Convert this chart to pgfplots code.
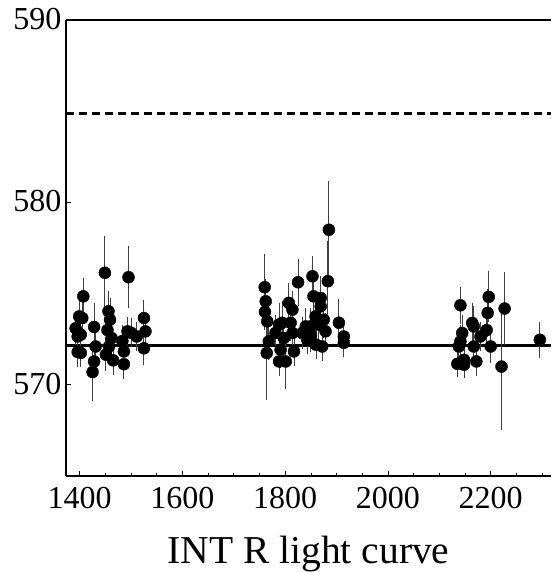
\documentclass[border=0pt]{standalone}
\usepackage{pgfplots}
\pgfplotsset{compat=1.18}
\usepackage{fontspec}
\setmainfont{Liberation Serif}
\begin{document}
\begin{tikzpicture}
\path[use as bounding box] (-66pt,-96pt) rectangle (485pt,476pt);
\begin{axis}[
  at={(0,0)}, anchor=south west,
  scale only axis, width=485pt, height=456pt,
  xmin=1373.3, xmax=2317.3, ymin=565, ymax=590,
  axis x line*=bottom, axis y line*=left,
  axis line style={line width=1.3pt, -},
  xtick={1400,1600,1800,2000,2200},
  minor xtick={1450,1500,1550,1650,1700,1750,1850,1900,1950,2050,2100,2150,2250,2300},
  ytick={570,580,590},
  tick align=inside,
  major tick length=5pt, minor tick length=3pt,
  tick style={line width=0.8pt, black},
  /pgf/number format/assume math mode=true,
  /pgf/number format/1000 sep={},
  ticklabel style={font=\fontsize{32}{36}\selectfont},
  xticklabel style={yshift=-8pt},
  yticklabel style={xshift=-1pt, yshift=1pt},
  xlabel={INT R light curve},
  xlabel style={font=\fontsize{39.5}{44}\selectfont, yshift=-20pt},
]
\addplot[black, line width=3pt, dash pattern=on 8pt off 5pt, forget plot] coordinates {(1373.3,584.85) (2317.3,584.85)};
\addplot[black, line width=3pt, forget plot] coordinates {(1373.3,572.15) (2317.3,572.15)};
\addplot[only marks, mark=*, mark size=6pt, black,
  error bars/.cd, y dir=both, y explicit, error mark=none,
  error bar style={black!75, line width=0.9pt}]
  table[x=x, y=y, y error=e] {
x y e
1407 574.85 1.0
1449 576.14 2.0
1495 575.90 1.7
1399 573.75 1.0
1405 573.66 1.1
1392 573.10 0.9
1396 572.65 1.0
1402 572.75 0.9
1396 571.80 0.8
1402 571.75 0.8
1428 573.17 1.3
1431 572.10 1.0
1428 571.28 0.9
1425 570.70 1.6
1456 574.03 1.1
1459 573.57 1.2
1454 573.00 1.0
1462 572.56 0.9
1457 572.10 1.0
1451 571.65 0.9
1465 571.34 0.8
1486 571.13 0.8
1486 571.83 0.8
1483 572.40 0.9
1493 572.93 0.8
1511 572.65 0.8
1525 573.66 1.0
1528 572.93 0.9
1525 572.00 0.9
1500 572.85 0.8
1760 575.35 1.8
1762 574.58 1.2
1760.5 574.00 1.0
1765 573.48 1.0
1768 572.38 1.0
1764 571.74 2.6
1781 572.84 1.0
1788 573.30 1.2
1794 573.40 1.2
1791 571.92 1.0
1788 571.28 0.8
1801 571.28 1.5
1797.5 572.56 1.0
1807 574.49 1.1
1814 574.12 1.0
1810.5 573.40 1.0
1814 572.84 1.0
1817 571.83 0.8
1825 575.62 1.3
1833 572.84 0.9
1840 573.20 1.0
1843 572.47 0.8
1853 575.95 1.1
1855 574.85 1.2
1869 574.76 1.2
1869 574.30 1.2
1859 573.75 1.0
1865.5 573.30 1.0
1875 573.57 1.0
1878.5 572.93 1.0
1885 578.50 2.7
1883 575.68 2.2
1872 572.10 0.8
1904.5 573.40 1.3
1914 572.65 0.9
1914 572.30 0.8
1849 573.20 1.0
1850 572.70 0.9
1860 572.20 0.8
2141 574.36 1.0
2144.5 572.84 1.0
2141 572.38 0.9
2138 572.10 0.9
2135 571.15 0.7
2148 571.37 0.8
2148 571.10 0.7
2164 573.39 1.1
2167 573.20 1.1
2167 572.10 0.9
2172 571.28 0.8
2180 572.65 0.8
2192 573.00 1.0
2194 573.94 1.3
2196 574.82 1.4
2200 572.10 0.9
2227 574.18 2.0
2221 571.00 3.5
2295.5 572.47 1.0
};
\draw[line width=1.3pt] (rel axis cs:0,1) -- (rel axis cs:1,1);
\end{axis}
\end{tikzpicture}
\end{document}
